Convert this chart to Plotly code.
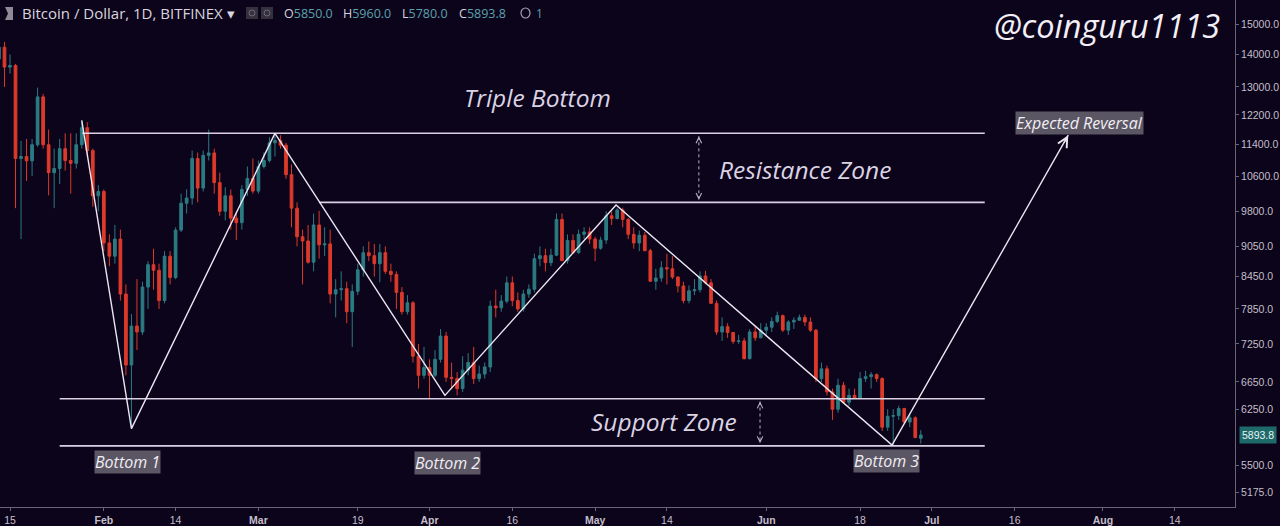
import math
from datetime import datetime, timedelta
import pandas as pd
import plotly.graph_objects as go

# ---------------- data ----------------
dates = pd.date_range("2018-01-13", "2018-06-29", freq="D")

open_ = [
    13850, 14230, 13600, 13650, 11050, 11100, 10990, 11400, 12710, 11400, 10700, 10800, 11300, 11000, 10930, 11400, 11850, 11250, 10150,
    10250, 9120, 8850, 9200, 8120, 6910, 7550, 7450, 8250, 8680, 8570, 8000, 8850, 8430, 9390, 9980, 10100, 11050, 10330, 11130, 11190, 10460, 9800, 10150, 9650, 9550, 10300, 10560,
    10260, 10850, 11000, 11450, 11510, 11390, 10650, 9870, 9250, 9160, 8730, 9500, 9080, 9100, 8120, 8200, 8220, 7800, 8170, 8580, 8920, 8860, 8700, 8920, 8550, 8490, 8150, 7800, 7960, 7050, 6750,
    6870, 6750, 7000, 7380, 6720, 6700, 6550, 6830, 6950, 6700, 6770, 6880, 7900, 7870, 7990, 8330, 8000, 7850, 8120, 8210, 8800, 8860, 8720, 8870, 9620, 8760, 9170, 8920, 9300, 9350,
    9200, 9010, 9180, 9700, 9640, 9830, 9620, 9300, 9120, 9280, 8960, 8360, 8420, 8620, 8600, 8440, 8270, 8000, 8180, 8200, 8460, 8330, 7950, 7450, 7540, 7440, 7290, 7300, 7010, 7450, 7350,
    7480, 7530, 7630, 7730, 7480, 7620, 7650, 7700, 7620, 7480, 6700, 6850, 6500, 6250, 6600, 6350, 6450, 6410, 6700, 6730, 6760, 6700, 6000, 6150, 6160, 6260, 6070, 6130, 5850,
]
high = [
    14300, 14400, 14000, 13700, 11500, 11550, 11550, 12980, 12800, 11800, 11300, 11550, 11700, 11700, 11700, 12050, 12000, 11300, 10400,
    10300, 9300, 9500, 9400, 8300, 7760, 8400, 8350, 8750, 9000, 8700, 8950, 8950, 9450, 10200, 10300, 11250, 11200, 11250, 11800, 11300, 10700, 10350, 10300, 9800, 10400, 10850, 11050,
    11000, 11200, 11600, 11700, 11650, 11450, 10900, 10000, 9400, 9500, 9750, 9810, 9450, 9400, 8400, 8550, 8350, 8300, 8700, 9050, 9150, 9100, 9100, 9050, 8700, 8550, 8250, 8100, 7990, 7250, 7200,
    7000, 7150, 7500, 7450, 6950, 6800, 7050, 7100, 7200, 6900, 6950, 8000, 8200, 8100, 8450, 8450, 8150, 8200, 8300, 8900, 9050, 9000, 9000, 9750, 9750, 9300, 9300, 9400, 9450, 9450,
    9250, 9250, 9800, 9800, 9870, 9880, 9650, 9450, 9380, 9350, 9000, 8600, 8750, 8900, 8850, 8450, 8350, 8280, 8400, 8550, 8560, 8400, 8000, 7700, 7600, 7450, 7400, 7350, 7500, 7550, 7600,
    7600, 7700, 7800, 7750, 7650, 7700, 7750, 7750, 7700, 7500, 6950, 6900, 6550, 6700, 6650, 6550, 6550, 6800, 6820, 6800, 6780, 6720, 6250, 6250, 6300, 6270, 6180, 6150, 5960,
]
low = [
    13700, 13000, 13400, 9870, 9200, 10500, 10620, 11350, 11300, 10160, 9870, 10430, 10750, 10200, 10800, 11300, 11100, 9900, 9800,
    8950, 8650, 8700, 8000, 6750, 5980, 7150, 7400, 7850, 8200, 7850, 7950, 8300, 8400, 9350, 9750, 9950, 10000, 10250, 11000, 10200, 9700, 9600, 9400, 9180, 9400, 10150, 10200,
    10200, 10800, 10950, 11100, 11300, 10550, 9450, 9050, 8300, 8700, 8550, 8800, 8850, 7950, 7700, 8000, 7600, 7200, 8100, 8450, 8750, 8450, 8340, 8500, 8350, 7850, 7750, 7750, 6950, 6550, 6700,
    6400, 6720, 6950, 6650, 6550, 6450, 6500, 6750, 6620, 6650, 6700, 6800, 7700, 7800, 7950, 7900, 7800, 7800, 8050, 8150, 8650, 8550, 8650, 8850, 8750, 8700, 8900, 8900, 9200, 9100,
    8750, 8980, 9100, 9500, 9620, 9450, 9200, 9000, 8950, 8950, 8350, 8200, 8350, 8300, 8400, 8150, 7950, 7950, 8100, 8150, 8300, 7950, 7400, 7300, 7350, 7250, 7250, 7000, 7000, 7300, 7350,
    7400, 7450, 7600, 7450, 7400, 7500, 7650, 7550, 7450, 6650, 6650, 6450, 6100, 6200, 6350, 6300, 6400, 6400, 6650, 6550, 6650, 5950, 5950, 5760, 6100, 6050, 6000, 5850, 5780,
]
close = [
    14230, 13600, 13650, 11050, 11100, 10990, 11400, 12710, 11400, 10700, 10800, 11300, 11000, 10930, 11400, 11850, 11250, 10150, 10250,
    9120, 8850, 9200, 8120, 6910, 7550, 7450, 8250, 8680, 8570, 8000, 8850, 8430, 9390, 9980, 10100, 11050, 10330, 11130, 11190, 10460, 9800, 10150, 9650, 9550, 10300, 10560, 10260,
    10850, 11000, 11450, 11510, 11390, 10650, 9870, 9250, 9160, 8730, 9500, 9080, 9100, 8120, 8200, 8220, 7800, 8170, 8580, 8920, 8860, 8700, 8920, 8550, 8490, 8150, 7800, 7960, 7050, 6750, 6870,
    6750, 7000, 7380, 6720, 6700, 6550, 6830, 6950, 6700, 6770, 6880, 7900, 7870, 7990, 8330, 8000, 7850, 8120, 8210, 8800, 8860, 8720, 8870, 9620, 8760, 9170, 8920, 9300, 9350, 9200,
    9010, 9180, 9700, 9640, 9830, 9620, 9300, 9120, 9280, 8960, 8360, 8420, 8620, 8600, 8440, 8270, 8000, 8180, 8200, 8460, 8330, 7950, 7450, 7540, 7440, 7290, 7300, 7010, 7450, 7350, 7480,
    7530, 7630, 7730, 7480, 7620, 7650, 7700, 7620, 7480, 6700, 6850, 6500, 6250, 6600, 6350, 6450, 6410, 6700, 6730, 6760, 6700, 6000, 6150, 6160, 6260, 6070, 6130, 5860, 5893.8,
]

# Pattern drawing (pivots of the triple bottom)
zigzag_dates = ["2018-01-28 00:00", "2018-02-06 00:00", "2018-03-04 00:00",
                "2018-04-03 19:00", "2018-05-04 19:00", "2018-06-23 19:00"]
zigzag_prices = [12050, 5980, 11700, 6450, 9940, 5760]
target_date = "2018-07-25 17:00"
target_price = 11650

resistance_top = 11700
resistance_bottom = 10000
support_top = 6400
support_bottom = 5750
resistance_line_dates = ["2018-01-28 02:00", "2018-07-10 14:00"]
resistance_low_dates = ["2018-03-12 00:00", "2018-07-10 14:00"]
support_line_dates = ["2018-01-24 00:00", "2018-07-10 14:00"]

y_tick_vals = [15000, 14000, 13000, 12200, 11400, 10600, 9800, 9050, 8450, 7850, 7250, 6650, 6250, 5500, 5175]
x_tick_vals = ["2018-01-15", "2018-02-01", "2018-02-14", "2018-03-01", "2018-03-19", "2018-04-01", "2018-04-16",
               "2018-05-01", "2018-05-14", "2018-06-01", "2018-06-18", "2018-07-01", "2018-07-16", "2018-08-01", "2018-08-14"]
x_tick_text = ["15", "<b>Feb</b>", "14", "<b>Mar</b>", "19", "<b>Apr</b>", "16", "<b>May</b>", "14", "<b>Jun</b>",
               "18", "<b>Jul</b>", "16", "<b>Aug</b>", "14"]

last_price = 5893.8
ohlc_header = [("O", "5850.0"), ("H", "5960.0"), ("L", "5780.0"), ("C", "5893.8")]

# ---------------- style ----------------
BG = "#0c041a"
TEAL = "#2b7b83"
RED = "#dc3a2b"
LINE = "#ece6f2"
HLINE = "#d9d0e4"
AXIS = "#6a6476"
TXT = "#c4bfcb"

PW, PH = 1235, 507  # plot area in px


def px(x):
    return x / PW


def py(y):
    return 1 - y / PH


def L(p):
    return math.log10(p)


x_start = datetime(2018, 1, 15) - timedelta(days=10 / 5.52)
x_end = x_start + timedelta(days=PW / 5.52)
y_top = math.log(15000) + 24 / 440
y_bot = math.log(15000) - (PH - 24) / 440

fig = go.Figure()

fig.add_trace(go.Candlestick(
    x=dates, open=open_, high=high, low=low, close=close,
    increasing=dict(line=dict(color=TEAL, width=1), fillcolor=TEAL),
    decreasing=dict(line=dict(color=RED, width=1), fillcolor=RED),
    whiskerwidth=0, showlegend=False, hoverinfo="skip",
))

# zones
for xs, val in [(resistance_line_dates, resistance_top), (resistance_low_dates, resistance_bottom),
                (support_line_dates, support_top), (support_line_dates, support_bottom)]:
    fig.add_trace(go.Scatter(x=xs, y=[val, val], mode="lines",
                             line=dict(color=HLINE, width=1.6), showlegend=False, hoverinfo="skip"))

# zig-zag pattern + projection
fig.add_trace(go.Scatter(x=zigzag_dates + [target_date], y=zigzag_prices + [target_price], mode="lines",
                         line=dict(color=LINE, width=1.4), showlegend=False, hoverinfo="skip"))

# dashed zone height arrows
res_arrow_date = "2018-05-19 19:00"
sup_arrow_date = "2018-05-30 21:00"
res_arrow = [11620, 10060]
sup_arrow = [6360, 5785]
for d, ys in [(res_arrow_date, res_arrow), (sup_arrow_date, sup_arrow)]:
    fig.add_trace(go.Scatter(x=[d, d], y=ys, mode="lines",
                             line=dict(color="#b9b1c4", width=1, dash="3px,3px"),
                             showlegend=False, hoverinfo="skip"))

annotations = []
for d, ys in [(res_arrow_date, res_arrow), (sup_arrow_date, sup_arrow)]:
    annotations.append(dict(x=d, y=L(ys[0]), xref="x", yref="y", text="", showarrow=True,
                            ax=0, ay=5, arrowhead=5, arrowsize=1.1, arrowwidth=1, arrowcolor="#b9b1c4"))
    annotations.append(dict(x=d, y=L(ys[1]), xref="x", yref="y", text="", showarrow=True,
                            ax=0, ay=-5, arrowhead=5, arrowsize=1.1, arrowwidth=1, arrowcolor="#b9b1c4"))

# arrow head at projected target
annotations.append(dict(x=target_date, y=L(target_price), xref="x", yref="y", text="", showarrow=True,
                        ax=-5, ay=9, arrowhead=5, arrowsize=1.4, arrowwidth=1.4, arrowcolor=LINE))

big_font = dict(family="Open Sans", size=24.5, color="#dad3e4")
annotations += [
    dict(x="2018-04-20 12:00", y=L(12706), text="<i>Triple Bottom</i>", showarrow=False, font=big_font),
    dict(x="2018-06-08 00:00", y=L(10786), text="<i>Resistance Zone</i>", showarrow=False, font=big_font),
    dict(x="2018-05-13 12:00", y=L(6071), text="<i>Support Zone</i>", showarrow=False, font=big_font),
]

box_font = dict(family="Open Sans", size=16, color="#f1edf5")
for txt, d, p in [("Bottom 1", "2018-02-05 05:00", 5543), ("Bottom 2", "2018-04-04 05:00", 5530),
                  ("Bottom 3", "2018-06-22 21:00", 5555), ("Expected Reversal", "2018-07-27 19:00", 11975)]:
    annotations.append(dict(x=d, y=L(p), text=f"<i>{txt}</i>", showarrow=False, font=box_font,
                            bgcolor="#5b5663", borderpad=0))

annotations.append(dict(x=px(1107), y=py(25), xref="paper", yref="paper", xanchor="center", yanchor="middle",
                        text="<i>@coinguru1113</i>", showarrow=False,
                        font=dict(family="Open Sans", size=32.5, color="#f3eff7")))

# header
annotations.append(dict(x=px(20), y=py(13), xref="paper", yref="paper", xanchor="left", yanchor="middle",
                        text="Bitcoin / Dollar, 1D, BITFINEX \u25be", showarrow=False,
                        font=dict(family="Open Sans", size=15, color="#d9d4df")))
for (k, v), xp in zip(ohlc_header, [282, 341, 400, 457]):
    annotations.append(dict(x=px(xp), y=py(13), xref="paper", yref="paper", xanchor="left", yanchor="middle",
                            text=f"{k}<span style='color:#5aa2ad'>{v}</span>", showarrow=False,
                            font=dict(family="Open Sans", size=12.5, color="#d9d4df")))
annotations.append(dict(x=px(534), y=py(13), xref="paper", yref="paper", xanchor="left", yanchor="middle",
                        text="1", showarrow=False, font=dict(family="Open Sans", size=12, color="#5aa2ad")))

# last price tag on the axis
annotations.append(dict(x=1, y=L(last_price), xref="paper", yref="y", xanchor="left", yanchor="middle",
                        xshift=4, text=f"{last_price}", showarrow=False, bgcolor="#1e6a6a", borderpad=2,
                        font=dict(family="Liberation Sans", size=10.5, color="#e6f3f3")))

shapes = [
    # flag icon
    dict(type="path", xref="paper", yref="paper",
         path=f"M {px(5)},{py(7)} L {px(13)},{py(7)} L {px(13)},{py(20)} L {px(5)},{py(20)} L {px(8)},{py(13.5)} Z",
         fillcolor="#8f8a98", line=dict(width=0)),
    # settings icons
    dict(type="rect", xref="paper", yref="paper", x0=px(246), x1=px(258), y0=py(19), y1=py(7),
         fillcolor="#34303d", line=dict(width=0)),
    dict(type="rect", xref="paper", yref="paper", x0=px(261), x1=px(273), y0=py(19), y1=py(7),
         fillcolor="#34303d", line=dict(width=0)),
    dict(type="circle", xref="paper", yref="paper", x0=px(249), x1=px(255), y0=py(16), y1=py(10),
         line=dict(color="#6e6878", width=1)),
    dict(type="circle", xref="paper", yref="paper", x0=px(264), x1=px(270), y0=py(16), y1=py(10),
         line=dict(color="#6e6878", width=1)),
    # alarm icon
    dict(type="circle", xref="paper", yref="paper", x0=px(521), x1=px(530), y0=py(18), y1=py(8),
         line=dict(color="#a8a2b0", width=1.2)),
]

fig.update_layout(
    width=1280, height=526,
    margin=dict(l=0, r=45, t=0, b=19),
    paper_bgcolor=BG, plot_bgcolor=BG,
    showlegend=False, hovermode=False,
    annotations=annotations, shapes=shapes,
    xaxis=dict(type="date", range=[x_start, x_end], rangeslider=dict(visible=False),
               showgrid=False, zeroline=False, showline=True, linecolor=AXIS, linewidth=1,
               ticks="outside", ticklen=3, tickcolor=AXIS,
               tickvals=x_tick_vals, ticktext=x_tick_text,
               tickfont=dict(family="Liberation Sans", size=10.5, color=TXT)),
    yaxis=dict(type="log", range=[y_bot / math.log(10), y_top / math.log(10)], side="right",
               showgrid=False, zeroline=False, showline=True, linecolor=AXIS, linewidth=1,
               ticks="outside", ticklen=3, tickcolor=AXIS,
               tickvals=y_tick_vals, ticktext=[f"{v:.1f}" for v in y_tick_vals],
               tickfont=dict(family="Liberation Sans", size=10.5, color=TXT)),
)

fig.write_html("out.html", config={"displayModeBar": False})
